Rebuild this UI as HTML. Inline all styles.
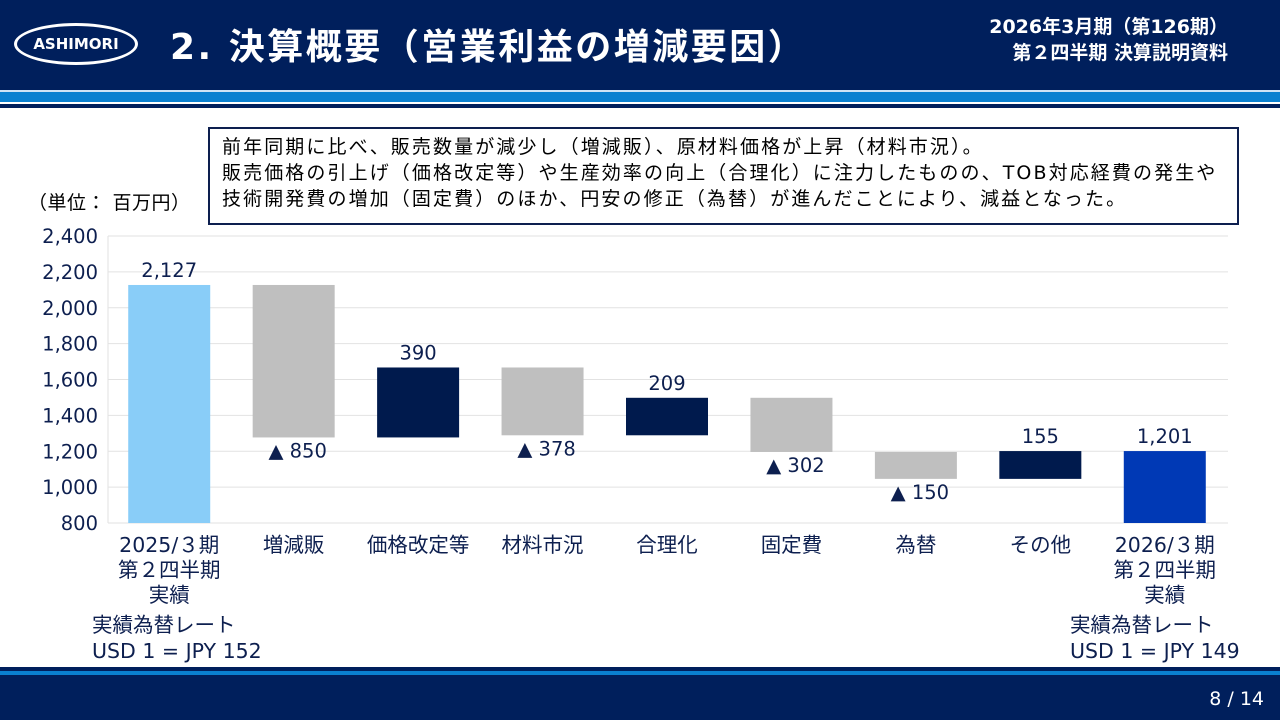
<!DOCTYPE html>
<html><head><meta charset="utf-8"><style>
body{margin:0;width:1280px;height:720px;overflow:hidden;background:#fff;font-family:"DejaVu Sans","Noto Sans CJK JP",sans-serif;color:#0d1f4f;position:relative}
.abs{position:absolute}
</style></head><body>
<div class="abs" style="left:0;top:0;width:1280px;height:90px;background:#001f5c"></div>
<div class="abs" style="left:0;top:90px;width:1280px;height:2px;background:#cfe3f5"></div>
<div class="abs" style="left:0;top:92px;width:1280px;height:10px;background:#0a80d0"></div>
<div class="abs" style="left:0;top:104px;width:1280px;height:4px;background:#001f5c"></div>
<div class="abs" style="left:14px;top:23px;width:124px;height:42px;border:3px solid #fff;border-radius:50%;box-sizing:border-box;color:#fff;font-weight:bold;font-size:15px;text-align:center;line-height:36px;font-family:'DejaVu Sans',sans-serif">ASHIMORI</div>
<div class="abs" style="left:170px;top:18px;color:#fff;font-size:36px;font-weight:bold;white-space:nowrap;letter-spacing:2.5px">2. 決算概要（営業利益の増減要因）</div>
<div class="abs" style="right:52px;top:14px;color:#fff;font-size:19px;font-weight:bold;text-align:right;line-height:26px">2026年3月期（第126期）<br>第２四半期 決算説明資料</div>
<div class="abs" style="left:208px;top:127px;width:1031px;height:98px;border:2px solid #0d1f4f;box-sizing:border-box;padding:5px 0 0 12px;font-size:19px;line-height:26px;color:#000;white-space:nowrap;letter-spacing:2.1px">前年同期に比べ、販売数量が減少し（増減販）、原材料価格が上昇（材料市況）。<br>販売価格の引上げ（価格改定等）や生産効率の向上（合理化）に注力したものの、TOB対応経費の発生や<br>技術開発費の増加（固定費）のほか、円安の修正（為替）が進んだことにより、減益となった。</div>
<div class="abs" style="left:28px;top:188px;font-size:19px;color:#000;letter-spacing:0.5px">（単位： 百万円）</div>
<svg class="abs" style="left:0;top:0" width="1280" height="720" id="chart"></svg>
<div class="abs" style="left:92px;top:612px;font-size:20.5px;line-height:26px;color:#0d1f4f">実績為替レート<br>USD 1 = JPY 152</div>
<div class="abs" style="left:1070px;top:612px;font-size:20.5px;line-height:26px;color:#0d1f4f">実績為替レート<br>USD 1 = JPY 149</div>
<div class="abs" style="left:0;top:667px;width:1280px;height:4px;background:#001f5c"></div>
<div class="abs" style="left:0;top:671px;width:1280px;height:4px;background:#0a80d0"></div>
<div class="abs" style="left:0;top:675px;width:1280px;height:45px;background:#001f5c"></div>
<div class="abs" style="right:16px;top:688px;color:#fff;font-size:19px">8 / 14</div>
<script>
const categories=["2025/３期\n第２四半期\n実績","増減販","価格改定等","材料市況","合理化","固定費","為替","その他","2026/３期\n第２四半期\n実績"];
const deltas=[2127,-850,390,-378,209,-302,-150,155,1201];
const kinds=["total","delta","delta","delta","delta","delta","delta","delta","total"];
const labels=["2,127","▲ 850","390","▲ 378","209","▲ 302","▲ 150","155","1,201"];
const ticks=[800,1000,1200,1400,1600,1800,2000,2200,2400];
const svg=document.getElementById('chart');const NS='http://www.w3.org/2000/svg';
const x0=108,x1=1228,yMin=800,yMax=2400,yTop=236,yBot=523;
const y=v=>yBot-(v-yMin)/(yMax-yMin)*(yBot-yTop);
const step=(x1-x0)/categories.length;
const cx=i=>x0+step*(i+0.5)-1;
function el(t,a){const e=document.createElementNS(NS,t);for(const k in a)e.setAttribute(k,a[k]);svg.appendChild(e);return e;}
ticks.forEach(t=>{
 const g=el('line',{x1:x0,x2:x1,y1:y(t),y2:y(t),stroke:'#e2e2e2','stroke-width':1});
 
 
 const tx=el('text',{x:98,y:y(t)+7,'text-anchor':'end','font-size':19.5,fill:'#0d1f4f'});tx.textContent=t.toLocaleString('en-US');
 
 
});
el('line',{x1:x0,x2:x0,y1:yTop,y2:yBot,stroke:'#e2e2e2'});
let run=0;
categories.forEach((c,i)=>{
 let top,bot,fill;
 if(kinds[i]==='total'){run=deltas[i];top=run;bot=yMin;fill=i===0?'#89cdf8':'#0039b5';}
 else{const prev=run;run+=deltas[i];top=Math.max(prev,run);bot=Math.min(prev,run);fill=deltas[i]<0?'#bfbfbf':'#001a4d';}
 const r=el('rect',{x:cx(i)-41,y:y(top),width:82,height:y(bot)-y(top),fill:fill});
 
 
 const neg=kinds[i]==='delta'&&deltas[i]<0;
 const ly=neg?y(bot)+20:y(top)-8;
 const t=el('text',{x:cx(i)+(neg?4:0),y:ly,'text-anchor':'middle','font-size':19.5,fill:'#0d1f4f'});t.textContent=labels[i];
 
 
 c.split('\n').forEach((ln,j)=>{
  const ct=el('text',{x:cx(i),y:552+j*25,'text-anchor':'middle','font-size':20.5,fill:'#0d1f4f'});ct.textContent=ln;
  
  
 });
});
</script>
</body></html>
